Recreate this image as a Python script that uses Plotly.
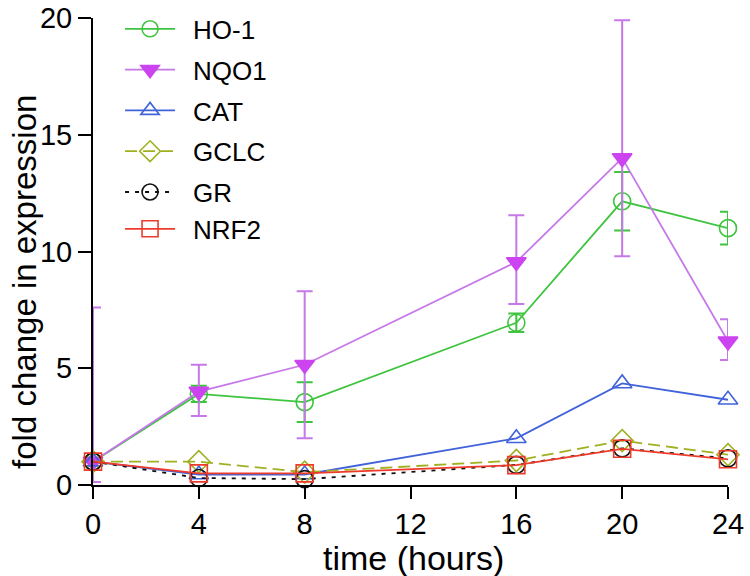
import plotly.graph_objects as go

time_h = [0, 4, 8, 16, 20, 24]

ho1 = [1.0, 3.9, 3.55, 6.95, 12.15, 11.0]
ho1_err = [0.05, 0.35, 0.85, 0.4, 1.25, 0.7]

nqo1 = [1.0, 4.0, 5.15, 9.55, 14.0, 6.15]
nqo1_err_plus = [6.6, 1.15, 3.15, 2.0, 5.9, 0.95]
nqo1_err_minus = [0.87, 1.05, 3.15, 1.8, 4.2, 0.8]

cat = [1.0, 0.45, 0.45, 2.0, 4.35, 3.65]
gclc = [1.0, 1.0, 0.55, 1.05, 1.9, 1.3]
gr = [1.0, 0.3, 0.25, 0.86, 1.57, 1.14]
nrf2 = [1.0, 0.5, 0.5, 0.85, 1.55, 1.1]

x_ticks = [0, 4, 8, 12, 16, 20, 24]
y_ticks = [0, 5, 10, 15, 20]

GREEN = "#3ec43e"
PURPLE_M = "#cc44f0"
PURPLE_L = "#c678e8"
BLUE = "#4163da"
OLIVE = "#a0b020"
RED = "#ee3a2a"
BLACK = "#111111"

fig = go.Figure()

def add(name, y, color, symbol, dash="solid", err=None, err_minus=None, lcolor=None, group=None):
    marker = dict(symbol=symbol, size=17, color=color, line=dict(color=color, width=1.6))
    kw = {}
    if err is not None:
        e = dict(type="data", array=err, visible=True, color=lcolor or color, thickness=2, width=8)
        if err_minus is not None:
            e["symmetric"] = False
            e["arrayminus"] = err_minus
        kw["error_y"] = e
    fig.add_trace(go.Scatter(
        x=time_h, y=y, name="\u2002" + name, mode="lines+markers",
        line=dict(color=lcolor or color, width=1.8, dash=dash),
        marker=marker, cliponaxis=False, legendgroup=group or name, **kw))

add("HO-1", ho1, GREEN, "circle-open", err=ho1_err)
add("NQO1", nqo1, PURPLE_M, "triangle-down", err=nqo1_err_plus,
    err_minus=nqo1_err_minus, lcolor=PURPLE_L)
add("CAT", cat, BLUE, "triangle-up-open")
add("GCLC", gclc, OLIVE, "diamond-open", dash="12px,6px")
add("GR", gr, BLACK, "circle-open", dash="4px,6px", group="g5")
add("NRF2", nrf2, RED, "square-open", group="g5")

fig.update_layout(
    width=750, height=576,
    margin=dict(l=93, r=22, t=18, b=91, autoexpand=False),
    paper_bgcolor="white", plot_bgcolor="white",
    font=dict(family="Liberation Sans, Arial, sans-serif", color="black"),
    showlegend=True,
    legend=dict(x=0.0426, y=1.027, xanchor="left", yanchor="top",
                font=dict(size=26, color="black"), traceorder="grouped",
                tracegroupgap=4, itemwidth=50, bgcolor="rgba(0,0,0,0)"),
    xaxis=dict(range=[0, 24], tickvals=x_ticks, ticktext=[str(v) for v in x_ticks],
               showline=True, linecolor="black", linewidth=2, ticks="outside",
               ticklen=12, tickwidth=2, tickcolor="black", showgrid=False, zeroline=False,
               tickfont=dict(size=29), automargin=False),
    yaxis=dict(range=[0, 20], tickvals=y_ticks, ticktext=[str(v) for v in y_ticks],
               showline=True, linecolor="black", linewidth=2, ticks="outside",
               ticklen=13, tickwidth=2, tickcolor="black", showgrid=False, zeroline=False,
               tickfont=dict(size=29), automargin=False),
    annotations=[
        dict(text="fold change in expression", textangle=-90,
             xref="paper", yref="paper", x=-0.107, y=0.435,
             xanchor="center", yanchor="middle", showarrow=False,
             font=dict(size=33)),
        dict(text="time (hours)", xref="paper", yref="paper", x=0.505, y=-0.157,
             xanchor="center", yanchor="middle", showarrow=False,
             font=dict(size=34)),
    ],
)

fig.write_html("out.html", config={"displayModeBar": False},
               post_script="document.body.style.margin='0';document.body.style.overflow='hidden';")
